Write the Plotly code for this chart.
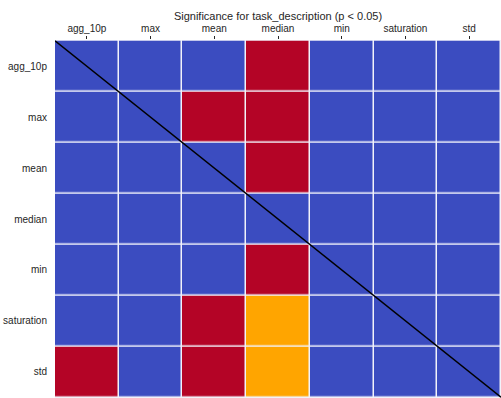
import plotly.graph_objects as go

# Feature names shared by both axes
features = ["agg_10p", "max", "mean", "median", "min", "saturation", "std"]

# Significance codes per (row, column): 0 = not significant, 1 = significant, 2 = marginal
significance = [
    [0, 0, 0, 1, 0, 0, 0],
    [0, 0, 1, 1, 0, 0, 0],
    [0, 0, 0, 1, 0, 0, 0],
    [0, 0, 0, 0, 0, 0, 0],
    [0, 0, 0, 1, 0, 0, 0],
    [0, 0, 1, 2, 0, 0, 0],
    [1, 0, 1, 2, 0, 0, 0],
]

title_text = "Significance for task_description (p < 0.05)"

blue, red, orange = "#3b4cc0", "#b40426", "#ffa500"
colorscale = [
    [0.0, blue], [1 / 3, blue],
    [1 / 3, red], [2 / 3, red],
    [2 / 3, orange], [1.0, orange],
]

fig = go.Figure(
    go.Heatmap(
        z=significance,
        x=features,
        y=features,
        zmin=-0.5,
        zmax=2.5,
        colorscale=colorscale,
        showscale=False,
        xgap=1.5,
        ygap=1.5,
        hoverongaps=False,
    )
)

# Diagonal reference line across the matrix
fig.add_shape(
    type="line",
    xref="x", yref="y",
    x0=-0.5, y0=-0.5, x1=len(features) - 0.5, y1=len(features) - 0.5,
    line=dict(color="black", width=1.5),
)

fig.update_layout(
    width=501,
    height=398,
    margin=dict(l=55, r=0, t=40, b=0),
    paper_bgcolor="white",
    plot_bgcolor="#f2f2fa",
    font=dict(family="Liberation Sans, Arial, sans-serif", size=10, color="#262626"),
    title=dict(
        text=title_text,
        x=(55 + 501) / 2 / 501,
        xanchor="center",
        y=1 - 16 / 398,
        yanchor="middle",
        font=dict(size=11, color="#262626"),
    ),
    xaxis=dict(
        side="top",
        ticks="outside",
        ticklen=3,
        tickwidth=1,
        tickcolor="#262626",
        ticklabelstandoff=0,
        showgrid=False,
        zeroline=False,
        showline=False,
        range=[-0.5, len(features) - 0.5],
        fixedrange=True,
    ),
    yaxis=dict(
        autorange="reversed",
        ticks="",
        ticklabelstandoff=7,
        showgrid=False,
        zeroline=False,
        showline=False,
        fixedrange=True,
    ),
)

fig.write_html("out.html")
